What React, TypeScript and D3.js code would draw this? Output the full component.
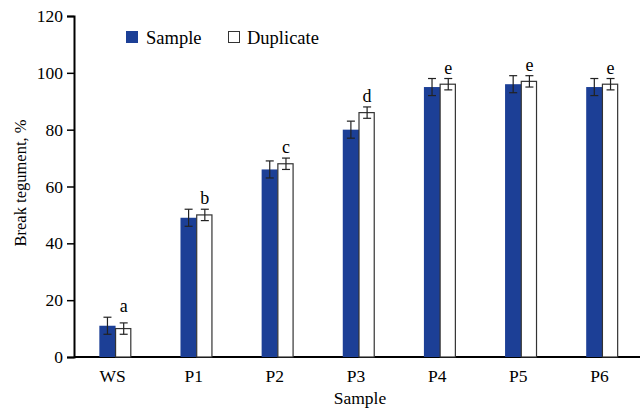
import React, { useEffect, useRef } from "react";
import * as d3 from "d3";

const categories = ["WS", "P1", "P2", "P3", "P4", "P5", "P6"];
const sampleValues = [11, 49, 66, 80, 95, 96, 95];
const sampleErrors = [3, 3, 3, 3, 3, 3, 3];
const duplicateValues = [10, 50, 68, 86, 96, 97, 96];
const duplicateErrors = [2, 2, 2, 2, 2, 2, 2];
const letters = ["a", "b", "c", "d", "e", "e", "e"];
const yTicks = [0, 20, 40, 60, 80, 100, 120];

const BLUE = "#1c3f96";
const FONT = "'Liberation Serif', 'Times New Roman', serif";

const App: React.FC = () => {
  const svgRef = useRef<SVGSVGElement | null>(null);

  useEffect(() => {
    if (!svgRef.current) return;
    const svg = d3.select(svgRef.current);
    svg.selectAll("*").remove();

    const width = 643;
    const height = 412;
    svg.attr("width", width).attr("height", height);

    const x = d3.scaleBand().domain(categories).range([75, 643]).paddingInner(0.6).paddingOuter(0.3);
    const y = d3.scaleLinear().domain([0, 120]).range([357, 16]);
    const barW = x.bandwidth() / 2;

    // y axis
    const yAxis = svg.append("g")
      .attr("transform", "translate(74,0)")
      .call(d3.axisLeft(y).tickValues(yTicks).tickSizeOuter(0).tickSize(7).tickPadding(4));
    yAxis.select(".domain").attr("stroke-width", 2);
    yAxis.selectAll(".tick line").attr("stroke-width", 1.5);
    yAxis.selectAll("text").attr("font-family", FONT).attr("font-size", 17.5).attr("fill", "#000");

    // x axis
    const xAxis = svg.append("g")
      .attr("transform", "translate(0,357)")
      .call(d3.axisBottom(x).tickSize(0).tickPadding(13));
    xAxis.select(".domain").attr("d", "M74,0H640").attr("stroke-width", 2);
    xAxis.selectAll(".tick").attr("transform", function () {
      const t = d3.select(this).attr("transform");
      const m = /translate\(([-\d.]+),/.exec(t || "");
      return m ? `translate(${+m[1] - 3},0)` : t;
    });
    xAxis.selectAll("text").attr("font-family", FONT).attr("font-size", 17.5).attr("fill", "#000");

    const g = svg.append("g");

    const drawErr = (cx: number, v: number, e: number) => {
      const top = y(v + e);
      const bot = y(v - e);
      g.append("line").attr("x1", cx).attr("x2", cx).attr("y1", top).attr("y2", bot).attr("stroke", "#222").attr("stroke-width", 1.2);
      g.append("line").attr("x1", cx - 4).attr("x2", cx + 4).attr("y1", top).attr("y2", top).attr("stroke", "#222").attr("stroke-width", 1.2);
      g.append("line").attr("x1", cx - 4).attr("x2", cx + 4).attr("y1", bot).attr("y2", bot).attr("stroke", "#222").attr("stroke-width", 1.2);
    };

    categories.forEach((c, i) => {
      const x0 = x(c)!;
      g.append("rect")
        .attr("x", x0).attr("y", y(sampleValues[i]))
        .attr("width", barW).attr("height", y(0) - y(sampleValues[i]))
        .attr("fill", BLUE);
      g.append("rect")
        .attr("x", x0 + barW).attr("y", y(duplicateValues[i]))
        .attr("width", barW - 1).attr("height", y(0) - y(duplicateValues[i]))
        .attr("fill", "#fff").attr("stroke", "#333").attr("stroke-width", 1.2);
      drawErr(x0 + barW / 2, sampleValues[i], sampleErrors[i]);
      drawErr(x0 + barW * 1.5, duplicateValues[i], duplicateErrors[i]);
      const topMax = Math.max(sampleValues[i] + sampleErrors[i], duplicateValues[i] + duplicateErrors[i]);
      g.append("text")
        .attr("x", x0 + barW * 1.5)
        .attr("y", y(topMax) - 5)
        .attr("text-anchor", "middle")
        .attr("font-family", FONT).attr("font-size", 18)
        .text(letters[i]);
    });

    // legend
    const leg = svg.append("g").attr("font-family", FONT).attr("font-size", 18.5);
    leg.append("rect").attr("x", 126).attr("y", 31).attr("width", 12).attr("height", 12).attr("fill", BLUE);
    leg.append("text").attr("x", 146).attr("y", 44).text("Sample");
    leg.append("rect").attr("x", 228.5).attr("y", 31.5).attr("width", 11).attr("height", 11).attr("fill", "#fff").attr("stroke", "#333");
    leg.append("text").attr("x", 247).attr("y", 44).text("Duplicate");

    // axis titles
    svg.append("text")
      .attr("transform", "translate(26,183) rotate(-90)")
      .attr("text-anchor", "middle")
      .attr("font-family", FONT).attr("font-size", 16.5)
      .text("Break tegument, %");
    svg.append("text")
      .attr("x", 360).attr("y", 404)
      .attr("text-anchor", "middle")
      .attr("font-family", FONT).attr("font-size", 17.5)
      .text("Sample");
  }, []);

  return <svg ref={svgRef} style={{ position: "absolute", left: 0, top: 0 }}></svg>;
};

export default App;
